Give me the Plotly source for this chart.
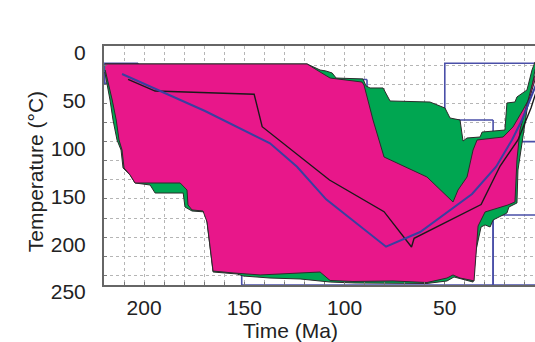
import plotly.graph_objects as go

# ---- data (time in Ma, temperature in °C) ----
green_upper_t = [219.6, 118.7, 112.2, 109.2, 106.2, 104.2, 90.8, 89.3, 87.3, 80.8, 77.3, 57.4, 49.9, 47.4, 42.4, 40.9, 38.9, 32.4, 31.4, 20.0, 19.0, 15.0, 14.0, 11.0, 9.0, 6.5, 5.0, 3.5]
green_upper_T = [18.8, 18.8, 25.1, 26.2, 28.2, 33.5, 34.5, 41.8, 43.9, 43.9, 57.5, 58.6, 64.9, 75.3, 77.4, 99.4, 96.2, 95.2, 90.0, 87.9, 59.6, 58.6, 53.3, 49.2, 46.0, 25.1, 16.7, 16.0]
green_lower_t = [219.6, 218.5, 217.0, 215.5, 213.5, 211.5, 210.5, 207.0, 204.5, 197.0, 194.5, 180.5, 179.6, 176.1, 169.6, 168.6, 165.6, 153.6, 150.6, 137.2, 122.2, 107.2, 94.8, 58.9, 48.9, 45.4, 39.9, 35.9, 34.4, 31.9, 29.9, 27.4, 25.9, 19.0, 18.0, 14.0, 13.5, 12.5, 10.5, 9.0, 6.5, 5.0, 3.5]
green_lower_T = [27.2, 40.8, 56.5, 77.4, 98.3, 108.8, 127.6, 134.9, 143.3, 145.4, 153.8, 153.8, 168.4, 172.6, 173.6, 184.1, 236.4, 238.5, 240.6, 242.7, 243.7, 246.9, 247.9, 248.4, 245.8, 241.6, 244.8, 246.9, 213.4, 189.3, 187.2, 189.3, 182.0, 174.7, 168.4, 164.2, 129.7, 114.0, 87.9, 66.9, 42.9, 25.0, 16.0]

pink_upper_t = [219.4, 118.7, 112.2, 107.2, 91.3, 90.3, 85.8, 80.3, 58.9, 45.9, 43.4, 38.9, 35.9, 33.9, 20.9, 16.0, 11.0, 7.5, 5.0, 2.5]
pink_upper_T = [18.8, 18.8, 27.2, 33.5, 37.7, 40.8, 77.4, 116.1, 137.0, 163.2, 150.6, 137.0, 108.8, 98.3, 95.2, 84.7, 66.9, 53.3, 35.6, 18.8]
pink_lower_t = [219.4, 217.9, 215.9, 213.9, 212.5, 211.0, 210.0, 207.0, 204.5, 182.0, 178.6, 178.1, 176.1, 170.6, 168.6, 165.6, 155.6, 142.1, 120.7, 112.2, 107.2, 95.8, 75.8, 58.9, 48.9, 45.9, 42.4, 37.4, 35.4, 33.4, 29.9, 18.5, 15.0, 14.5, 14.0, 12.5, 10.0, 7.5, 5.5, 2.5]
pink_lower_T = [25.1, 38.7, 56.5, 77.4, 98.3, 108.8, 127.6, 134.9, 143.3, 143.3, 150.6, 166.3, 171.5, 172.6, 184.1, 235.4, 237.4, 239.5, 237.4, 236.4, 245.3, 246.3, 245.8, 247.4, 242.7, 239.5, 242.7, 244.8, 245.8, 188.3, 173.6, 166.3, 163.2, 147.5, 119.0, 87.9, 69.0, 49.2, 33.5, 18.8]

best_t = [208.0, 194.5, 145.1, 141.1, 107.5, 80.3, 66.6, 65.3, 31.9, 22.4, 13.5, 7.0, 2.5]
best_T = [34.8, 47.1, 50.5, 84.4, 140.2, 173.3, 210.3, 201.2, 165.8, 125.5, 98.3, 64.9, 35.6]

mean_t = [211.0, 169.6, 137.2, 123.7, 109.2, 79.3, 62.3, 36.4, 24.4, 16.5, 11.5, 5.0, 0.0]
mean_T = [29.3, 68.0, 101.8, 126.3, 160.4, 209.9, 194.6, 154.8, 126.3, 98.3, 77.4, 42.9, 16.7]

# constraint boxes: (t_young, t_old, T_top, T_bottom)
box_t0 = [203.0, 88.8, 0.0, 25.9, 0.0]
box_t1 = [219.6, 106.0, 50.0, 151.3, 25.9]
box_T0 = [18.0, 35.0, 18.0, 77.4, 176.8]
box_T1 = [39.0, 80.0, 100.0, 250.0, 250.0]

x_ticks = [200, 150, 100, 50]
y_ticks = [0, 50, 100, 150, 200, 250]

FONT = "Liberation Sans, Arial, sans-serif"
GREEN = "#00A651"
PINK = "#E8178A"
OUTLINE = "#2b2b2b"

fig = go.Figure()

# constraint boxes (drawn beneath envelopes)
for a, b, c, d in zip(box_t0, box_t1, box_T0, box_T1):
    fig.add_trace(go.Scatter(x=[a, b, b, a, a], y=[c, c, d, d, c], mode="lines",
                             line=dict(color="#4a4fa8", width=1.6),
                             hoverinfo="skip", showlegend=False))

# green (acceptable) envelope
fig.add_trace(go.Scatter(x=green_upper_t + green_lower_t[::-1],
                         y=green_upper_T + green_lower_T[::-1],
                         fill="toself", fillcolor=GREEN, mode="lines",
                         line=dict(color=OUTLINE, width=1), showlegend=False))
# pink (good) envelope
fig.add_trace(go.Scatter(x=pink_upper_t + pink_lower_t[::-1],
                         y=pink_upper_T + pink_lower_T[::-1],
                         fill="toself", fillcolor=PINK, mode="lines",
                         line=dict(color=OUTLINE, width=1), showlegend=False))
# best-fit path
fig.add_trace(go.Scatter(x=best_t, y=best_T, mode="lines",
                         line=dict(color="#1a1a1a", width=1.4), showlegend=False))
# mean path
fig.add_trace(go.Scatter(x=mean_t, y=mean_T, mode="lines",
                         line=dict(color="#3a3fa0", width=2), showlegend=False))

# invisible trace to carry the grid axes
fig.add_trace(go.Scatter(x=[100], y=[100], xaxis="x2", yaxis="y2", mode="markers",
                         marker=dict(opacity=0), hoverinfo="skip", showlegend=False))

XR = [220, 5]
YR = [250, 0]

fig.update_layout(
    width=535, height=342,
    margin=dict(l=104, r=0, t=46, b=57),
    paper_bgcolor="white", plot_bgcolor="white",
    font=dict(family=FONT, size=21, color="#222"),
    xaxis=dict(range=XR, tickvals=x_ticks, showgrid=False, zeroline=False,
               showline=True, linecolor="#666", linewidth=2, mirror=True,
               ticks="", ticklabelstandoff=3,
               tickfont=dict(family=FONT, size=21, color="#222")),
    yaxis=dict(range=YR, tickvals=y_ticks, showgrid=False, zeroline=False,
               showline=True, linecolor="#666", linewidth=2,
               ticks="", ticklabelstandoff=12, ticklabelshift=-7,
               tickfont=dict(family=FONT, size=21, color="#222")),
    xaxis2=dict(range=XR, overlaying="x", dtick=10, tick0=0, showgrid=True,
                gridcolor="#b5b5b5", griddash="dot", gridwidth=1,
                showticklabels=False, ticks="inside", ticklen=3, tickcolor="#777",
                zeroline=False, showline=False),
    yaxis2=dict(range=YR, overlaying="y", dtick=20, tick0=0, showgrid=True,
                gridcolor="#b5b5b5", griddash="dot", gridwidth=1,
                showticklabels=False, ticks="inside", ticklen=3, tickcolor="#777",
                zeroline=False, showline=False, side="left"),
    annotations=[
        dict(text="Time (Ma)", xref="x", yref="paper", x=127, y=0, yshift=-45,
             showarrow=False, xanchor="center", yanchor="middle",
             font=dict(family=FONT, size=21, color="#222")),
        dict(text="Temperature (°C)", xref="paper", yref="y", x=0, y=132, xshift=-69,
             showarrow=False, textangle=-90, xanchor="center", yanchor="middle",
             font=dict(family=FONT, size=21, color="#222")),
    ],
)

fig.write_html("out.html",
               config={"displayModeBar": False},
               post_script="document.documentElement.style.overflow='hidden';"
                           "document.body.style.overflow='hidden';"
                           "document.body.style.margin='0';")
